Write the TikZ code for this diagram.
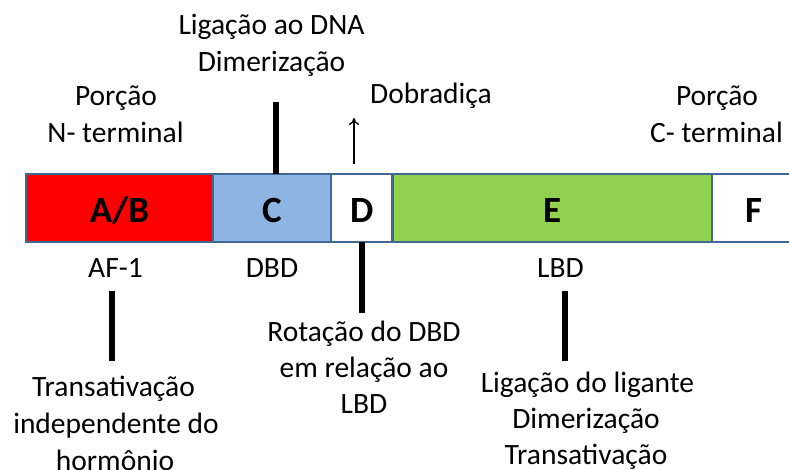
\documentclass[tikz,border=0pt]{standalone}
\usepackage{fontspec}
\setmainfont{Carlito}
\usetikzlibrary{arrows.meta}
\definecolor{segline}{HTML}{3F6895}
\definecolor{segred}{HTML}{FF0000}
\definecolor{segblue}{HTML}{8EB4E3}
\definecolor{seggreen}{HTML}{92D050}
\begin{document}
\begin{tikzpicture}[x=1pt,y=-1pt,
  seg/.style={draw=segline, line width=2.2pt, minimum height=68pt, inner sep=0pt, outer sep=0pt,
    text height=30pt, text depth=0pt, font=\fontsize{37}{40}\selectfont\bfseries},
  lbl/.style={inner sep=0pt, anchor=base, font=\fontsize{29.5}{34}\selectfont},
  pointer/.style={line width=6pt},
]
\useasboundingbox (0,0) rectangle (789,470);
\clip (0,0) rectangle (789,470);

% receptor domains
\node[seg, fill=segred,   minimum width=187pt]   (AB) at (119.5,208)  {A/B};
\node[seg, fill=segblue,  minimum width=118pt]   (C)  at (272,208)    {C};
\node[seg, fill=white,    minimum width=61.5pt]  (D)  at (361.75,208) {D};
\node[seg, fill=seggreen, minimum width=319.5pt] (E)  at (552.25,208) {E};
\node[seg, fill=white,    minimum width=83pt]    (F)  at (753.5,208)  {F};

% upper labels
\node[lbl] (dna1) at (271.5,35)  {Ligação ao DNA};
\node[lbl] (dna2) at (271.5,72)  {Dimerização};
\node[lbl] (nt1)  at (116,105.7) {Porção};
\node[lbl] (nt2)  at (115.5,142.7) {N- terminal};
\node[lbl] (hinge) at (431,103.3) {Dobradiça};
\node[lbl] (ct1)  at (717,105.7) {Porção};
\node[lbl] (ct2)  at (716.5,142.7) {C- terminal};

% domain names
\node[lbl] (af1) at (115.5,277.7) {AF-1};
\node[lbl] (dbd) at (272,277.7)   {DBD};
\node[lbl] (lbd) at (560.5,277.7) {LBD};

% lower labels
\node[lbl] (rot1) at (364,341.7) {Rotação do DBD};
\node[lbl] (rot2) at (364,377.5) {em relação ao};
\node[lbl] (rot3) at (364,413.3) {LBD};
\node[lbl] (tr1) at (113.5,396.7) {Transativação};
\node[lbl] (tr2) at (116,433.5)  {independente do};
\node[lbl] (tr3) at (115,470.3)  {hormônio};
\node[lbl] (lg1) at (587.5,392)  {Ligação do ligante};
\node[lbl] (lg2) at (586,428)    {Dimerização};
\node[lbl] (lg3) at (586,464)    {Transativação};

% pointer ends
\coordinate (cTop)  at (276,101.7);
\coordinate (afTop) at (112.3,290.7);
\coordinate (afBot) at (112.3,360.7);
\coordinate (dBot)  at (362,313.3);
\coordinate (eTop)  at (565,291);
\coordinate (eBot)  at (565,361);
\coordinate (hTail) at (354,164);
\coordinate (hHead) at (354,118);

% pointers
\draw[pointer] (cTop) -- (cTop |- C.north);
\draw[pointer] (dBot |- D.south) -- (dBot);
\draw[pointer] (afTop) -- (afBot);
\draw[pointer] (eTop) -- (eBot);
\draw[line width=1.3pt, -{To[length=7pt,width=10pt]}] (hTail) -- (hHead);
\end{tikzpicture}
\end{document}
